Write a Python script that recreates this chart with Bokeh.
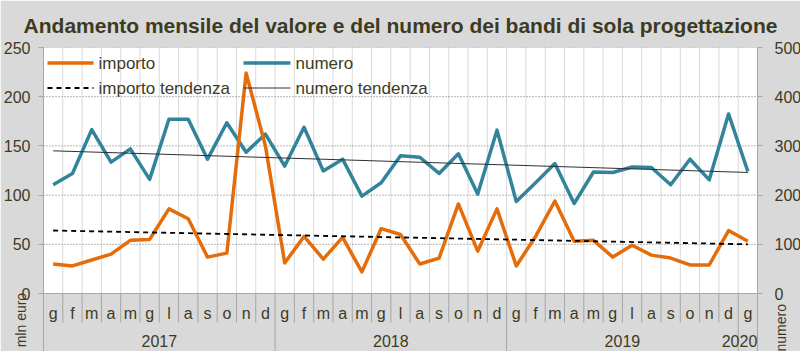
import math
from bokeh.plotting import figure
from bokeh.models import Range1d, LinearAxis, FixedTicker
from bokeh.core.properties import value
from bokeh.embed import file_html
from bokeh.resources import INLINE

# ---------------- data ----------------
months = ["g", "f", "m", "a", "m", "g", "l", "a", "s", "o", "n", "d"]
years = ["2017", "2018", "2019", "2020"]
month_labels = months * 3 + ["g"]
importo = [30, 28, 34, 40, 54, 55, 86, 76, 37, 41, 224, 150,
           31, 58, 35, 57, 22, 66, 60, 30, 36, 91, 43, 86,
           28, 58, 94, 53, 54, 37, 49, 39, 36, 29, 29, 64, 53]
numero = [221, 244, 333, 267, 294, 232, 354, 354, 273, 347, 287, 324,
          259, 338, 249, 273, 198, 225, 280, 277, 244, 284, 202, 332,
          187, 225, 264, 183, 247, 246, 257, 256, 221, 273, 231, 365, 248]
importo_trend = [64, 50]
numero_trend = [290, 246]
left_ticks = [0, 50, 100, 150, 200, 250]
right_ticks = [0, 100, 200, 300, 400, 500]
legend_names = ["importo", "numero", "importo tendenza", "numero tendenza"]
TITLE = "Andamento mensile del valore e del numero dei bandi di sola progettazione"
LEFT_TITLE = "mln euro"
RIGHT_TITLE = "numero"

# ---------------- layout ----------------
W, H = 800, 351
FL, FR, FT = 43, 757, 47
Y0_PX = 293
N = len(importo)
y_top = left_ticks[-1]
ppu = (Y0_PX - FT) / y_top
y_bot = -(H - Y0_PX) / ppu
x_ppu = (FR - FL) / N
r_top = right_ticks[-1]
r_bot = y_bot * r_top / y_top


def dx(px):
    return (px - FL) / x_ppu


def dy(py):
    return (Y0_PX - py) / ppu


TXT = "#3d3b1f"
ORANGE = "#E46C0A"
TEAL = "#31849B"
BG = "#d9d9d9"
FONT = "Liberation Sans"
NBSP = "\u00a0"

p = figure(width=W, height=H, x_range=Range1d(0, N), y_range=Range1d(y_bot, y_top),
           x_axis_type=None, output_backend="svg", toolbar_location=None,
           min_border_left=FL, min_border_right=W - FR, min_border_top=FT,
           min_border_bottom=0, title=TITLE)
p.extra_y_ranges = {"right": Range1d(r_bot, r_top)}
p.background_fill_color = BG
p.border_fill_color = BG
p.outline_line_color = None
p.grid.visible = False

p.title.align = "center"
p.title.text_font = FONT
p.title.text_font_style = "bold"
p.title.text_font_size = "21px"
p.title.text_color = TXT
p.title.standoff = 22

# plot area
p.quad(left=0, right=N, bottom=0, top=y_top, fill_color="white", line_color=None)
vx = list(range(1, N))
p.segment(x0=vx, y0=0, x1=vx, y1=y_top, line_color="#d9d9d9", line_width=1)
hy = left_ticks[1:]
p.segment(x0=0, y0=hy, x1=N, y1=hy, line_color="#6f6f6f", line_width=1, line_dash="1 2")
p.segment(x0=0, y0=0, x1=N, y1=0, line_color="#a6a6a6", line_width=1)

# category band separators
month_sep = [i for i in range(1, N) if i % 12 != 0]
year_sep = [i for i in range(1, N) if i % 12 == 0]
p.segment(x0=month_sep, y0=0, x1=month_sep, y1=dy(322), line_color="#a6a6a6", line_width=1)
p.segment(x0=year_sep, y0=0, x1=year_sep, y1=y_bot, line_color="#a6a6a6", line_width=1)

xc = [i + 0.5 for i in range(N)]
p.text(x=xc, y=dy(313), text=month_labels, text_font=value(FONT), text_font_size="16px",
       text_color=TXT, text_align="center", text_baseline="alphabetic")
year_x = []
for k, yr in enumerate(years):
    idx = [i for i in range(N) if i // 12 == k]
    year_x.append((idx[0] + idx[-1] + 1) / 2)
# keep the last (partial-year) label inside the frame
year_x[-1] = min(year_x[-1], dx(FR - 18))
p.text(x=year_x, y=dy(340), text=years, text_font=value(FONT), text_font_size="16px",
       text_color=TXT, text_align="center", text_baseline="alphabetic")

# series
p.line(xc, numero, y_range_name="right", line_color=TEAL, line_width=3.5, line_join="round")
p.line(xc, importo, line_color=ORANGE, line_width=3.5, line_join="round")
p.line([xc[0], xc[-1]], importo_trend, line_color="black", line_width=1.8, line_dash="5 4")
p.line([xc[0], xc[-1]], numero_trend, y_range_name="right", line_color="#303030", line_width=1)

# legend (manual)
r1, r2 = dy(62.5), dy(87.5)
p.line([dx(47), dx(93)], [r1, r1], line_color=ORANGE, line_width=3.5)
p.line([dx(243), dx(290)], [r1, r1], line_color=TEAL, line_width=3.5)
p.line([dx(47), dx(93)], [r2, r2], line_color="black", line_width=1.8, line_dash="5 4")
p.line([dx(243), dx(290)], [r2, r2], line_color="#303030", line_width=1)
p.text(x=[dx(98), dx(295), dx(98), dx(295)], y=[r1, r1, r2, r2], text=legend_names,
       text_font=value(FONT), text_font_size="17px", text_color=TXT,
       text_align="left", text_baseline="middle")

# axes
ax = p.yaxis[0]
ax.ticker = FixedTicker(ticks=left_ticks)
rax = LinearAxis(y_range_name="right", ticker=FixedTicker(ticks=right_ticks))
p.add_layout(rax, "right")
for a, so, lso in ((ax, 8, -20), (rax, 12, -23)):
    a.major_tick_out = 5
    a.major_tick_in = 0
    a.minor_tick_out = 0
    a.minor_tick_in = 0
    a.axis_line_color = "#a6a6a6"
    a.major_tick_line_color = "#a6a6a6"
    a.major_label_text_font = FONT
    a.major_label_text_font_size = "16px"
    a.major_label_text_color = TXT
    a.major_label_standoff = so
    a.axis_label_text_font = FONT
    a.axis_label_text_font_style = "normal"
    a.axis_label_text_font_size = "14px"
    a.axis_label_text_color = TXT
    a.axis_label_standoff = lso
    a.axis_label_orientation = math.pi / 2

# left title: end anchored at the axis middle, non-breaking padding pushes the words to the bottom
ax.axis_label = LEFT_TITLE + NBSP * 24
ax.axis_label_align = "center"
rax.axis_label = RIGHT_TITLE
rax.axis_label_align = "start"

open("out.html", "w").write(file_html(p, INLINE))
